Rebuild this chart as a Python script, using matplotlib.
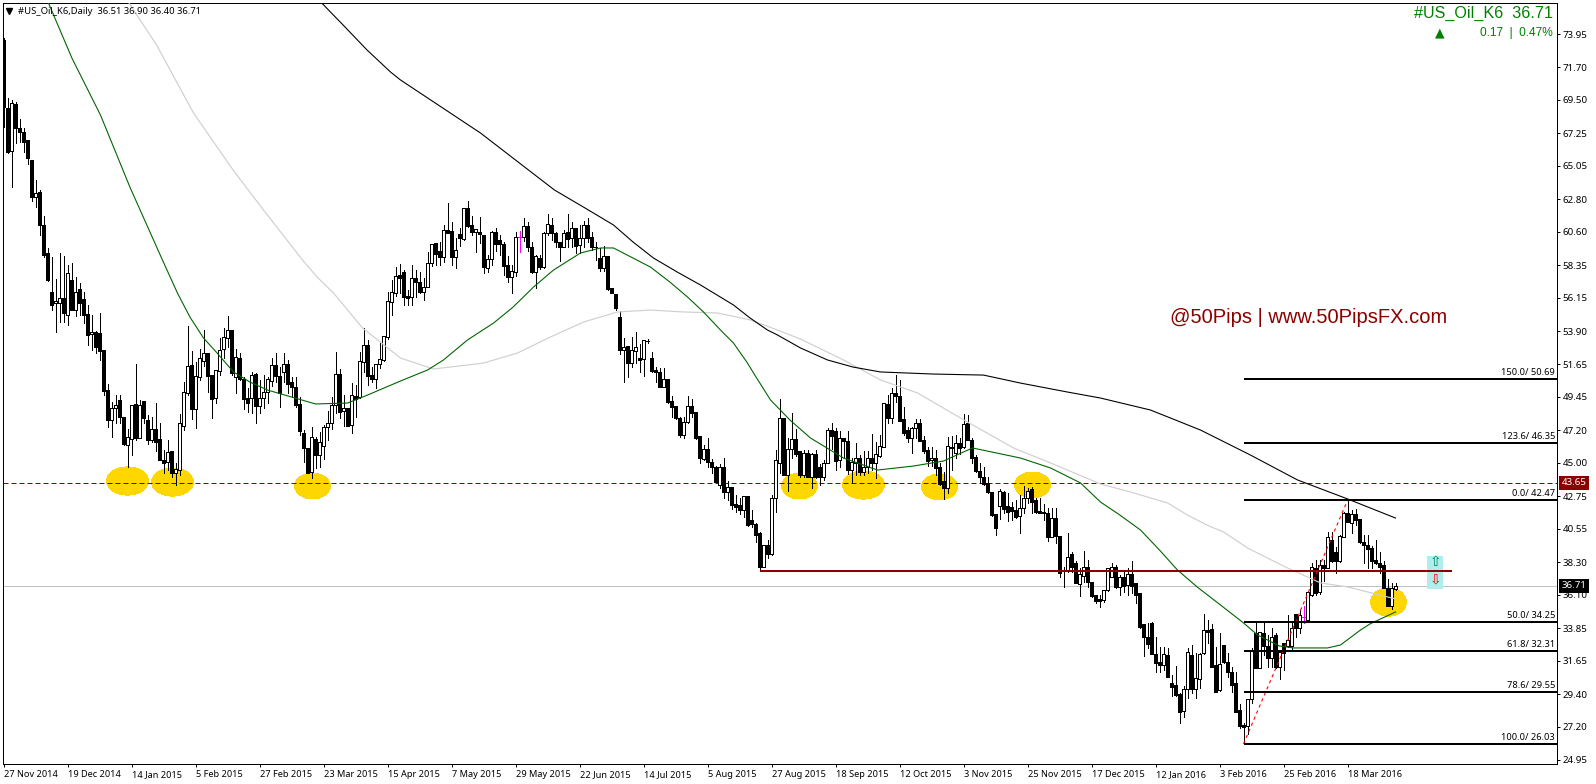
import matplotlib
matplotlib.use("Agg")
import matplotlib.pyplot as plt
from matplotlib.patches import Ellipse, Rectangle
import numpy as np

plt.rcParams['font.family'] = ['Noto Sans', 'DejaVu Sans']

opens = [
73.54,68.93,66.07,69.22,67.58,67.35,66.79,65.44,62.92,63.3,
61.05,59.14,56.52,55.8,55.78,56.1,55.0,57.35,55.33,56.72,
56.05,55.06,53.68,53.82,53.75,52.63,49.93,47.9,48.73,49.25,
48.08,46.2,46.62,48.96,46.71,49.18,47.9,46.55,47.29,46.62,
45.2,45.09,45.81,44.35,44.53,47.52,49.7,51.61,48.62,50.83,
51.9,52.4,50.94,49.36,51.23,52.67,53.46,53.98,50.78,52.06,
50.67,49.36,49.36,51.0,48.87,49.41,49.77,50.56,51.61,50.89,
51.16,51.68,50.44,50.11,48.96,47.0,45.99,44.41,46.62,45.54,
46.17,47.41,47.68,48.91,50.98,48.53,48.69,47.56,49.52,49.43,
51.84,52.96,50.94,50.65,51.68,51.95,53.48,55.89,56.5,57.7,
57.91,56.3,56.18,57.46,57.23,56.56,56.9,58.52,59.82,59.3,
58.92,60.72,60.65,58.92,60.45,60.11,62.18,61.06,60.61,60.56,
60.38,58.18,58.74,60.61,60.05,59.78,58.36,57.53,57.91,60.23,
60.23,60.99,59.55,57.91,58.85,58.24,60.5,61.06,60.5,59.93,
59.55,60.6,60.16,60.88,59.71,60.2,61.06,60.23,59.6,58.85,
58.18,58.97,56.78,56.38,54.87,52.62,52.89,51.77,52.58,52.1,
51.99,53.25,52.06,51.27,51.12,50.15,50.66,49.18,48.86,48.0,
46.88,47.74,48.84,48.46,46.84,45.25,45.92,45.09,44.75,43.51,
44.75,43.06,43.4,42.23,42.16,41.83,42.77,41.15,40.88,40.25,
38.0,39.46,38.86,42.61,44.98,48.01,44.19,45.92,46.6,45.81,
44.19,45.7,44.08,45.58,44.71,44.08,45.02,47.23,47.16,45.2,
46.66,46.48,44.53,44.98,45.36,44.41,44.75,45.36,45.02,45.49,
46.1,48.96,48.01,49.7,49.52,47.95,47.23,46.71,47.34,47.72,
46.55,45.88,45.2,45.36,44.71,43.81,43.33,46.1,45.65,46.37,
46.06,47.72,46.55,45.43,44.48,44.03,43.63,43.06,41.56,42.12,
43.06,42.12,42.05,41.83,41.44,41.94,42.61,43.22,42.5,41.76,
41.67,41.6,40.03,41.26,40.07,37.8,37.77,38.85,38.23,36.8,
37.37,38.0,36.99,36.09,35.82,35.75,36.43,37.33,37.96,36.65,
37.33,36.76,37.5,36.88,36.2,34.13,33.23,34.17,32.11,31.54,
31.36,32.04,30.13,30.01,29.41,28.28,29.72,32.04,29.72,30.4,
32.15,33.73,33.79,31.36,29.68,32.71,31.59,30.91,30.17,28.33,
27.31,27.25,29.05,33.5,31.14,33.5,32.67,31.86,33.39,31.21,
32.83,32.65,32.67,34.8,33.84,34.63,34.4,36.09,37.89,36.31,
38.11,37.89,39.8,39.01,38.38,40.03,41.6,40.97,41.56,41.2,
39.69,39.46,39.24,38.45,38.27,38.11,36.54,35.37,36.51]

highs = [
73.7,69.6,69.49,69.38,68.19,67.58,66.79,65.44,64.09,63.42,
61.66,59.48,58.9,57.4,59.2,59.0,58.36,58.48,57.58,57.17,
56.56,55.66,54.99,53.93,55.15,52.63,50.33,49.14,49.6,49.6,
48.08,47.29,48.91,51.68,49.25,49.18,48.24,48.13,49.03,47.68,
45.88,46.55,45.81,44.98,48.28,50.49,54.25,52.58,51.84,52.67,
53.98,52.4,50.94,51.28,53.41,54.09,54.92,53.98,52.67,52.4,
50.83,50.04,51.16,51.05,50.6,50.94,50.83,52.06,52.4,51.5,
52.4,51.95,50.78,50.78,49.48,47.23,45.99,47.41,46.78,47.11,
47.56,48.53,49.48,52.49,51.34,49.59,48.69,50.38,50.26,52.49,
54.09,53.3,51.5,51.66,53.08,53.57,56.56,57.35,58.2,58.4,
58.02,56.7,58.36,58.02,57.91,57.5,59.26,59.75,59.82,59.93,
61.06,62.52,61.28,60.16,60.83,62.18,62.68,61.67,60.77,61.62,
60.38,59.03,60.68,60.83,60.38,59.93,58.97,58.36,60.6,60.65,
61.5,61.28,59.93,59.03,59.03,60.6,61.8,61.5,60.6,59.93,
60.72,61.8,61.28,60.88,61.06,61.35,61.5,60.6,59.93,59.48,
59.64,58.97,56.78,56.38,55.28,53.45,52.89,53.52,53.81,53.0,
53.3,53.36,52.46,51.5,51.38,51.38,50.66,49.54,48.86,48.12,
48.12,49.52,49.29,48.46,46.84,46.21,46.66,45.25,44.8,44.93,
45.31,43.81,43.4,42.84,42.61,42.77,42.77,41.8,40.93,40.36,
39.46,39.8,42.84,45.87,49.3,48.01,46.66,48.35,47.3,45.81,
45.87,45.87,45.65,45.87,44.93,45.2,47.34,47.68,47.34,47.18,
46.66,47.18,45.31,46.33,45.54,45.83,45.83,46.96,46.44,46.89,
49.03,49.59,50.04,50.94,50.6,48.8,47.45,47.45,47.95,47.95,
46.82,46.06,46.06,45.87,45.0,44.41,46.73,46.8,46.89,46.66,
48.3,48.24,46.66,45.54,44.98,44.71,44.08,43.06,41.56,43.22,
43.13,43.0,42.39,42.5,42.84,43.45,43.29,43.4,42.61,42.61,
42.23,41.94,41.94,41.94,40.07,38.0,40.3,39.0,38.4,37.89,
39.08,38.45,36.99,36.09,36.09,36.43,37.89,38.23,38.11,37.44,
37.78,37.89,38.4,36.88,36.2,34.13,34.17,34.29,33.26,32.6,
32.6,32.49,30.69,31.3,29.45,29.95,32.49,32.71,32.15,32.15,
34.78,34.4,34.11,32.6,33.5,32.71,32.15,31.25,30.91,28.73,
27.43,29.05,32.49,34.17,33.62,34.17,33.39,33.84,33.5,32.38,
32.83,34.74,34.17,34.8,35.08,35.35,36.27,38.23,38.45,38.45,
38.45,40.36,40.36,39.35,40.14,41.67,42.47,41.83,41.87,41.2,
40.14,40.14,39.4,39.8,39.01,38.4,37.15,36.88,36.9]

lows = [
67.69,65.9,63.64,66.61,66.68,66.0,65.2,62.7,62.25,60.38,
58.92,57.3,55.33,53.86,54.54,54.54,54.3,55.33,54.92,55.0,
54.47,52.96,52.63,52.45,51.95,49.59,47.45,46.78,47.68,47.68,
46.2,44.75,45.54,46.55,46.66,47.72,46.28,46.44,45.83,45.2,
44.3,44.53,44.03,43.51,44.19,47.23,49.59,47.95,47.34,50.6,
51.55,49.81,48.01,49.07,50.94,52.06,52.8,50.94,49.75,50.6,
48.62,48.46,48.4,47.72,48.4,48.69,49.07,50.2,50.49,48.8,
50.49,49.75,49.48,48.8,46.89,45.09,44.3,43.96,44.64,44.75,
45.25,46.55,47.27,48.35,48.01,47.52,47.52,47.0,48.08,49.36,
51.16,50.26,50.49,50.04,51.39,51.9,53.35,55.0,56.3,56.5,
55.66,55.66,55.66,56.22,56.45,56.0,56.9,58.29,58.36,58.36,
58.54,60.54,58.36,58.13,59.64,60.05,60.95,60.38,59.26,59.82,
57.84,57.91,58.36,59.3,59.03,57.68,57.23,56.45,57.62,59.26,
60.0,59.3,57.8,56.78,58.07,58.13,60.38,60.05,59.55,58.65,
59.55,59.55,59.6,59.19,59.19,59.6,59.93,59.37,58.7,57.95,
57.95,56.67,56.45,55.32,52.35,50.48,50.82,51.5,51.77,51.16,
50.87,53.1,51.16,50.48,50.1,50.1,49.02,48.12,47.94,46.77,
46.66,47.67,48.12,46.59,45.0,45.2,44.75,44.3,43.69,43.29,
42.61,42.5,41.87,41.71,41.56,41.33,40.75,40.7,39.69,37.73,
37.96,38.56,38.79,41.71,44.3,44.19,43.13,45.31,45.5,44.08,
44.08,44.03,43.29,43.96,43.51,43.85,44.98,45.92,44.53,44.75,
45.31,44.26,43.63,44.19,44.19,44.19,44.3,44.53,43.96,45.43,
46.06,47.68,47.68,49.14,47.83,46.89,46.44,45.7,46.66,46.5,
45.65,44.8,44.8,44.19,43.51,42.54,42.95,44.5,45.31,45.6,
45.99,46.55,44.98,44.41,43.63,43.51,42.95,41.42,40.14,41.22,
41.6,41.1,41.15,41.26,40.3,41.65,42.28,41.65,41.65,41.6,
41.15,39.76,40.03,39.58,37.33,36.6,37.66,37.66,36.88,36.02,
36.99,36.65,35.98,35.53,35.3,35.64,36.38,37.33,36.54,36.09,
36.31,36.09,36.2,35.53,33.88,31.97,32.49,32.11,30.91,30.91,
31.03,30.53,29.27,29.27,27.47,27.83,29.11,29.45,29.11,29.79,
32.11,32.83,31.21,29.56,29.63,31.48,30.58,29.56,28.21,27.09,
26.03,26.7,28.78,31.14,31.14,32.04,31.25,31.21,31.14,30.4,
31.03,32.6,32.38,33.28,33.5,34.17,34.36,36.02,36.09,36.16,
37.0,37.89,38.34,37.6,38.34,39.98,41.04,40.25,40.8,39.62,
38.27,37.89,37.89,38.18,37.55,36.54,35.37,35.14,36.4]

closes = [
69.04,66.0,69.27,67.58,67.35,66.68,65.55,62.97,63.19,61.05,
59.03,57.35,55.66,55.9,56.1,55.1,57.8,55.33,56.56,55.82,
55.0,53.64,53.82,52.81,52.58,49.88,47.9,48.69,48.91,48.13,
46.28,46.73,48.91,46.66,48.91,48.06,46.55,47.27,46.44,45.2,
45.02,45.72,44.3,44.57,47.68,49.77,51.55,48.64,50.87,52.06,
52.4,50.9,49.32,51.28,52.63,53.48,53.98,51.05,52.13,50.65,
49.32,49.07,50.94,48.87,49.36,49.77,50.65,51.61,50.89,49.7,
51.68,50.33,50.15,48.91,47.16,46.03,44.3,46.78,45.54,46.39,
47.41,47.68,48.91,50.98,48.46,48.69,47.52,49.59,49.32,51.88,
52.96,50.89,50.67,51.66,52.02,53.57,55.93,56.52,57.6,57.5,
56.22,56.15,57.46,57.23,56.56,56.9,58.47,59.75,59.1,58.92,
60.72,60.54,58.92,59.37,60.2,62.18,61.01,60.61,60.77,60.43,
58.2,58.74,60.61,59.78,59.75,58.29,57.53,57.95,60.27,60.23,
60.99,59.55,57.91,58.97,58.24,60.5,61.1,60.5,59.93,59.55,
60.5,60.11,60.83,59.66,60.16,61.06,60.2,59.6,59.58,58.18,
58.97,56.74,56.45,55.43,52.62,52.85,51.77,52.62,52.8,51.95,
53.3,53.25,51.2,51.12,50.15,50.64,49.13,48.8,48.0,46.88,
47.78,48.84,48.39,46.7,45.31,45.92,45.09,44.75,43.69,44.75,
43.06,43.36,42.16,42.0,41.83,42.77,40.81,40.85,40.14,38.0,
39.46,38.86,42.61,45.2,48.01,44.19,45.92,46.6,45.61,44.19,
45.7,44.08,45.58,44.03,44.08,45.02,47.23,46.82,45.16,46.66,
46.5,44.53,45.09,45.31,44.41,44.75,45.31,44.98,45.58,46.17,
49.03,48.01,49.7,49.52,47.83,47.05,46.71,47.34,47.68,46.5,
45.83,45.16,45.36,44.64,43.58,43.29,46.15,45.99,46.33,45.99,
47.63,46.55,45.31,44.48,44.03,43.58,43.06,41.49,40.63,43.11,
41.87,41.71,41.78,41.38,41.94,42.61,43.13,42.39,41.71,41.65,
41.6,40.03,41.26,40.07,37.55,37.77,38.68,38.0,36.92,37.51,
37.96,36.99,36.02,35.71,35.71,36.43,37.89,38.0,36.61,37.28,
36.7,37.48,36.7,36.09,33.95,33.23,32.78,32.11,31.52,31.36,
32.11,30.58,29.9,29.34,28.21,29.74,32.26,29.72,30.46,32.11,
33.73,33.62,31.25,29.56,31.43,31.59,30.91,30.01,28.21,27.25,
27.2,29.05,32.38,31.14,33.57,32.67,31.86,33.23,31.25,32.22,
32.15,33.05,33.88,33.84,34.74,34.63,36.27,37.96,36.25,38.11,
37.89,39.98,38.38,38.38,40.09,41.6,41.04,41.56,41.15,39.69,
39.46,39.17,38.4,38.27,38.0,36.54,35.37,36.54,36.71]

magenta_bars = [129, 325]

green_idx = [11,17.1,24.25,31.6,39.75,43.5,46.6,50,53.4,57.5,61.6,66,78,86,91,99.25,106,110,116,122.5,127.4,132.5,137.5,144.25,149.25,152.5,161.75,166.6,171,175,179.25,182.5,186,187.5,191.75,196.6,201.75,210,218.5,227.5,235,242.25,254.25,261.75,269.25,274.25,279,284.25,289,293.5,298.4,304.25,310,313.5,316,319,322.5,331,334.25,339.25,341.6,348]
green_ma = [76.2,72.33,68.48,63.62,58.69,56.46,54.85,53.43,52.42,51.14,50.46,49.92,48.98,49.04,49.58,50.53,51.27,51.95,53.30,54.44,55.52,56.87,58.02,59.17,59.51,59.51,58.22,57.21,56.2,55.19,53.97,53.09,51.74,51.07,49.25,47.9,46.68,45.33,44.52,44.79,45.13,46.01,45.33,44.66,43.65,42.36,41.5,40.47,39.12,37.77,36.63,35.41,34.2,33.39,33.05,32.64,32.51,32.51,32.71,33.72,34.13,34.94]

gray_idx = [31,38.3,47.5,57.4,65,74.75,78.4,82.5,89.75,99.25,107.5,120,128.5,136.75,145,153.5,161.75,170,178.5,186.75,193.5,199.25,210,219.25,228.5,241,252.5,261.75,274.25,281.6,291,296,300.9,305,311,316,321,329.25,336,348]
gray_ma = [76.2,73.2,68.62,64.77,62.07,58.70,57.55,56.47,54.11,52.08,51.34,51.74,52.42,53.5,54.51,55.19,55.32,55.19,55.12,54.65,53.97,53.36,51.95,50.6,49.72,47.76,46.01,45.0,43.58,43.05,42.3,41.48,40.8,40.34,39.26,38.58,37.91,36.9,36.63,35.82]

black_idx = [79,84.9,90.9,96.75,99.25,119.25,137.75,145,152.5,157.4,162.5,168.4,174.25,182.5,186.6,191,193.4,199.25,206,212.4,219.25,232.4,245,254.25,265.9,274.25,286.75,299.25,311.75,323.5,336,348]
black_ma = [76.2,74.56,72.87,71.39,70.85,67.27,63.42,62.27,61.06,59.91,58.83,57.89,57.01,55.66,54.79,53.97,53.65,52.76,51.95,51.47,51.14,51.0,50.93,50.39,49.79,49.38,48.57,47.22,45.53,43.85,42.57,41.28]

y_ticks = [73.95,71.70,69.50,67.25,65.05,62.80,60.60,58.35,56.15,53.90,51.65,49.45,47.20,45.00,42.75,40.55,38.30,36.10,33.85,31.65,29.40,27.20,24.95]
x_dates = ["27 Nov 2014","19 Dec 2014","14 Jan 2015","5 Feb 2015","27 Feb 2015","23 Mar 2015","15 Apr 2015","7 May 2015","29 May 2015","22 Jun 2015","14 Jul 2015","5 Aug 2015","27 Aug 2015","18 Sep 2015","12 Oct 2015","3 Nov 2015","25 Nov 2015","17 Dec 2015","12 Jan 2016","3 Feb 2016","25 Feb 2016","18 Mar 2016"]

fib_ratios = ["150.0","123.6","0.0","50.0","61.8","78.6","100.0"]
fib_prices = [50.69,46.35,42.47,34.25,32.31,29.55,26.03]
fib_start = 310
fib_diag_idx = [310,336]
fib_diag_price = [26.03,42.47]

support_price = 43.65
resistance_price = 37.73
resistance_span = [189,362]
last_price = 36.71

circle_idx = [31,42.25,77.25,199,215,234,257.25,346.25]
circle_price = [43.78,43.71,43.44,43.44,43.51,43.38,43.51,35.61]
circle_w = [10.5,10.5,9,9,10.5,9,9,9]
circle_h = [1.9,1.9,1.75,1.75,1.9,1.75,1.75,1.9]

W, H = 1596, 784
fig = plt.figure(figsize=(W/100, H/100), dpi=100, facecolor='white')
L, R, T, B = 2.5, 1556.5, 2.5, 763.5
ax = fig.add_axes([L/W, 1-B/H, (R-L)/W, (B-T)/H])
ax.set_xlim(-0.25, 388.25)
ax.set_ylim(24.71, 76.08)
PX = 0.72

o, h, l, c = map(np.array, (opens, highs, lows, closes))
x = np.arange(len(o))
bull = c >= o
wick_colors = ['#FF00FF' if i in magenta_bars else 'black' for i in x]

for cx, cy, cw, ch in zip(circle_idx, circle_price, circle_w, circle_h):
    ax.add_patch(Ellipse((cx, cy), cw, ch, facecolor='#FFD700', edgecolor='none', zorder=1, antialiased=False))

ax.axhline(last_price, color='#C0C0C0', lw=1*PX, zorder=1.5)
ax.axhline(support_price, color='#8B0000', lw=1*PX, ls=(0, (5, 3)), zorder=2)

ax.vlines(x, l, h, colors=wick_colors, lw=PX, zorder=3, antialiased=False)
for mask, face in ((bull, 'white'), (~bull, 'black')):
    ax.bar(x[mask], (c - o)[mask], bottom=o[mask], width=0.6, facecolor=face,
           edgecolor=[wick_colors[i] for i in x[mask]], linewidth=PX, zorder=3.2, antialiased=False)

ax.plot(gray_idx, gray_ma, color='#D0D0D0', lw=1.2*PX, zorder=4)
ax.plot(green_idx, green_ma, color='#006400', lw=1.1*PX, zorder=4.1)
ax.plot(black_idx, black_ma, color='black', lw=1.1*PX, zorder=4.2)

ax.plot(resistance_span, [resistance_price]*2, color='#8B0000', lw=2*PX, zorder=5, solid_capstyle='butt')
ax.plot(fib_diag_idx, fib_diag_price, color='red', lw=1.1*PX, ls=(0, (3, 3)), zorder=5)
tr = ax.get_yaxis_transform()
for name, p in zip(fib_ratios, fib_prices):
    ax.plot([fib_start, 388.25], [p, p], color='black', lw=2*PX, zorder=5, solid_capstyle='butt')
    ax.annotate(f"{name}/ {p:.2f}", xy=(1, p), xycoords=tr, xytext=(-1, 1.5), textcoords='offset points',
                ha='right', va='bottom', fontsize=6.7, color='black', zorder=6)

# signal box
ax.add_patch(Rectangle((355.9, 36.49), 4, 2.23, facecolor='#B0EEEE', edgecolor='none', zorder=4.5))
ax.text(357.9, 38.3, '\u21e7', family='DejaVu Sans', fontsize=10, color='#008060', ha='center', va='center', zorder=6)
ax.text(357.9, 37.15, '\u21e9', family='DejaVu Sans', fontsize=10, color='red', ha='center', va='center', zorder=6)

ax.set_yticks(y_ticks)
ax.set_yticklabels([f"{v:.2f}" for v in y_ticks])
ax.yaxis.tick_right()
ax.set_xticks(np.arange(len(x_dates))*16)
ax.set_xticklabels(x_dates, ha='left')
ax.tick_params(axis='both', length=2.2, width=PX, labelsize=7, pad=2, colors='black')
ax.tick_params(axis='x', labelsize=6.6, pad=2.5)
for s in ax.spines.values():
    s.set_linewidth(PX)
    s.set_color('black')

def tag(p, txt, col):
    ax.annotate(txt, xy=(1, p), xycoords=tr, xytext=(3.6, 0), textcoords='offset points', ha='left', va='center',
                fontsize=7, color='white', zorder=10, annotation_clip=False,
                bbox=dict(boxstyle='square,pad=0.28', fc=col, ec='none'))
tag(support_price, '43.65', '#8B0000')
tag(last_price, '36.71', 'black')

# captions
ax.plot([0.0042], [0.9885], marker='v', ms=4, color='black', transform=ax.transAxes, zorder=10, clip_on=False)
fig.text(18/W, 1-11/H, "#US_Oil_K6,Daily  36.51 36.90 36.40 36.71", fontsize=6.8, color='black', va='center', ha='left')
fig.text(1553/W, 1-13.5/H, "#US_Oil_K6  36.71", fontsize=11.6, color='#008000', family='Liberation Sans', va='center', ha='right')
fig.text(1553/W, 1-33/H, "0.17  |  0.47%", fontsize=8.6, color='#008000', family='Liberation Sans', va='center', ha='right')
fig.text(1440/W, 1-33/H, '\u25b2', fontsize=9, color='#008000', family='DejaVu Sans', va='center', ha='center')
fig.text(1170/W, 1-318/H, "@50Pips | www.50PipsFX.com", fontsize=14.5, color='#8B0000', family='Liberation Sans', va='center', ha='left')

fig.savefig('out.png', dpi=100, facecolor='white')
